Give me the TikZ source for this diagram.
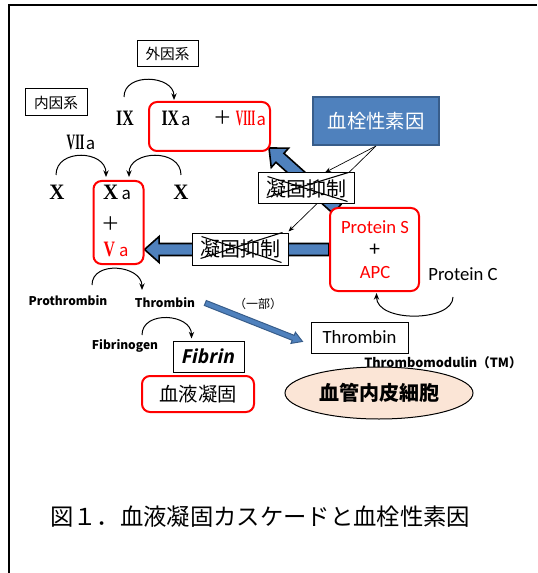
\documentclass[tikz,border=0pt]{standalone}
\usepackage{fontspec}
\usepackage{graphicx}
\usetikzlibrary{calc,arrows.meta,shapes.geometric,backgrounds}
\newfontfamily\jp{Noto Sans CJK JP}
\newfontfamily\calib{Carlito}
\newfontfamily\rmb{Liberation Serif}
\newfontfamily\osans{Open Sans}
\definecolor{bluefill}{HTML}{4F81BD}
\definecolor{blueline}{HTML}{385D8A}
\definecolor{peach}{HTML}{FBE5D6}
\newcommand{\RN}[2][1]{\scalebox{#1}[1]{\rmb\bfseries\fontsize{16.5}{17}\selectfont #2}}
\newcommand{\SA}{{\jp\fontsize{12.5}{13}\selectfont a}}
\newcommand{\fatarrow}[6][]{%
  \draw[fat,#1] let \p1=($(#3)-(#2)$), \n1={veclen(\x1,\y1)}, \n2={atan2(\y1,\x1)} in
   [shift={(#2)}, rotate=\n2] (0pt,-#4) -- (\n1-#6,-#4) -- (\n1-#6,-#5) -- (\n1,0pt)
   -- (\n1-#6,#5) -- (\n1-#6,#4) -- (0pt,#4) -- cycle;}
\begin{document}
\begin{tikzpicture}[x=0.75pt,y=-0.75pt,
  lbl/.style={draw=black, line width=0.75pt, fill=white, inner sep=0pt, font=\jp\fontsize{11}{13}\selectfont},
  redbox/.style={draw=red, line width=1.5pt, rounded corners=6pt, inner sep=0pt, fill=white},
  txt/.style={inner sep=0pt},
  arc/.style={line width=0.75pt, -{Stealth[length=5pt,width=4pt]}},
  thinarr/.style={line width=0.5pt, -{Stealth[length=4.5pt,width=3.5pt]}},
  cross/.style={line width=0.8pt},
  fat/.style={fill=bluefill, draw=black, line width=1.2pt, line join=miter},
  small/.style={inner sep=0pt, font=\jp\bfseries\fontsize{9}{10}\selectfont},
  calt/.style={inner sep=0pt, font=\calib\fontsize{14}{15}\selectfont}
]
\useasboundingbox (0,0) rectangle (537,573);
\draw[line width=1.6pt] (537,5) -- (9,5) -- (9,573);

% label boxes
\node[lbl, minimum width=45.75pt, minimum height=19.5pt] (gai) at (167.5,54) {外因系};
\node[lbl, minimum width=46.5pt, minimum height=20.25pt] (nai) at (56,102.5) {内因系};

% red boxes
\node[redbox, minimum width=90.75pt, minimum height=36.75pt] (box1) at (209.5,126.5) {};
\node[redbox, minimum width=37.5pt, minimum height=62.25pt] (box2) at (118.5,222.5) {};
\node[redbox, minimum width=66.75pt, minimum height=62.25pt] (ps) at (374.5,249.5) {};

% risk box
\node[draw=blueline, line width=1.5pt, fill=bluefill, text=white, inner sep=0pt,
  minimum width=94.5pt, minimum height=36pt, font=\jp\fontsize{14.5}{16}\selectfont] (risk) at (376,121) {血栓性素因};

% inhibition boxes
\node[lbl, minimum width=72pt, minimum height=23.25pt, font=\jp\fontsize{15}{16}\selectfont] (inh1) at (306,188.5) {凝固抑制};
\node[lbl, minimum width=72pt, minimum height=24pt, font=\jp\fontsize{15}{16}\selectfont] (inh2) at (240,249) {凝固抑制};
\draw[cross] ($(inh1.north west)+(10,4)$) -- ($(inh1.south east)+(-7,-3)$);
\draw[cross] ($(inh1.south west)+(9,-7)$) -- ($(inh1.north east)+(-6,0)$);
\draw[cross] ($(inh2.north west)+(10,4)$) -- ($(inh2.south east)+(-7,-3)$);
\draw[cross] ($(inh2.south west)+(9,-7)$) -- ($(inh2.north east)+(-6,0)$);

% factor texts
\node[txt] (ix) at (125,118) {\RN[0.72]{IX}};
\node[txt] (ixa) at (176,118) {\RN[0.72]{IX}\hspace{1.5pt}\SA};
\node[txt, font=\jp\fontsize{14}{14}\selectfont] (p1) at (222.5,118) {＋};
\node[txt, text=red] (viiia) at (251,118) {\RN[0.47]{VIII}\hspace{1pt}\SA};
\node[txt] (viia) at (81,142) {\RN[0.54]{VII}\hspace{1pt}\SA};
\node[txt] (xl) at (57,192) {\RN[0.95]{X}};
\node[txt] (xr) at (181,192) {\RN[0.95]{X}};
\node[txt] (xa) at (117,192) {\RN[0.95]{X}\hspace{2.5pt}\SA};
\node[txt, font=\jp\fontsize{14}{14}\selectfont] (p2) at (111,224) {＋};
\node[txt, text=red] (va) at (116,249) {\RN[0.72]{V}\hspace{3pt}\SA};

% protein S box texts
\node[calt, text=red] (pst) at (375,227) {Protein S};
\node[calt, font=\jp\fontsize{15}{15}\selectfont] (p3) at (375,250) {+};
\node[calt, text=red] (apc) at (375,273) {APC};
\node[calt] (pc) at (463,274) {Protein C};

% lower part
\node[small] (proth) at (68,301) {Prothrombin};
\node[small] (thr) at (165,303) {Thrombin};
\node[small] (fbg) at (125,346) {Fibrinogen};
\node[lbl, minimum width=53.25pt, minimum height=23.25pt, font=\osans\bfseries\itshape\fontsize{14.5}{15}\selectfont] (fibrin) at (208.5,356.5) {Fibrin};
\node[redbox, minimum width=84pt, minimum height=27pt, font=\jp\fontsize{14.5}{15}\selectfont] (coag) at (198,394) {血液凝固};
\node[txt, font=\jp\fontsize{9}{10}\selectfont] (ichibu) at (258,304) {（一部）};
\node[lbl, minimum width=72.75pt, minimum height=23.25pt, font=\calib\fontsize{14}{15}\selectfont] (thr2) at (359.5,337.5) {Thrombin};
\node[ellipse, draw=black, line width=0.75pt, fill=peach, inner sep=0pt, minimum width=141pt, minimum height=39pt,
  font=\jp\bfseries\fontsize{15}{16}\selectfont] (ell) at (379,393) {血管内皮細胞};
\node[small, font=\jp\bfseries\fontsize{9.5}{10}\selectfont] (tm) at (443,363) {Thrombomodulin（TM）};

% caption
\node[txt, font=\jp\fontsize{17.5}{18}\selectfont] (cap) at (260,517) {図１．血液凝固カスケードと血栓性素因};

% connectors
\coordinate (d1) at ($(ps.north west)+(8,2)$);
\coordinate (d2) at ($(box1.south east)+(-2,-4)$);
\coordinate (h2) at (box2.east |- ps.west);
\coordinate (t1) at ($(thr.east)+(10,0)$);
\coordinate (t2) at ($(thr2.west)+(-8,4)$);
\begin{scope}[on background layer]
  \fatarrow{d1}{d2}{4.5pt}{9.75pt}{11pt}
  \fatarrow{ps.west}{h2}{4.5pt}{9.75pt}{11pt}
  \draw[thinarr] (risk.south) -- ($(inh2.north east)+(0,-1)$);
\end{scope}
\fatarrow[draw=blueline,line width=0.75pt]{t1}{t2}{2pt}{4.5pt}{7.5pt}
\draw[thinarr] (risk.south) -- ($(inh1.north)+(19,0)$);

\draw[arc] ($(ix)+(-1,-21)$) .. controls +(0,-25) and +(0,-25) .. ($(ixa)+(-2,-18)$);
\draw[arc] ($(xl)+(-1,-17)$) .. controls +(0,-27) and +(0,-27) .. ($(xa)+(-11,-15)$);
\draw[arc] ($(xr)+(0,-17)$) .. controls +(0,-27) and +(0,-27) .. ($(xa)+(12,-15)$);
\draw[arc] ($(proth)+(24,-16)$) .. controls +(0,-25) and +(0,-25) .. ($(thr)+(-23,-13)$);
\draw[arc] ($(fbg)+(17,-11)$) .. controls +(0,-25) and +(0,-25) .. ($(fibrin.north west)+(19,-2)$);
\draw[arc] ($(pc)+(-10,23)$) .. controls +(0,25) and +(0,30) .. ($(ps.south)+(2,1)$);
\end{tikzpicture}
\end{document}
